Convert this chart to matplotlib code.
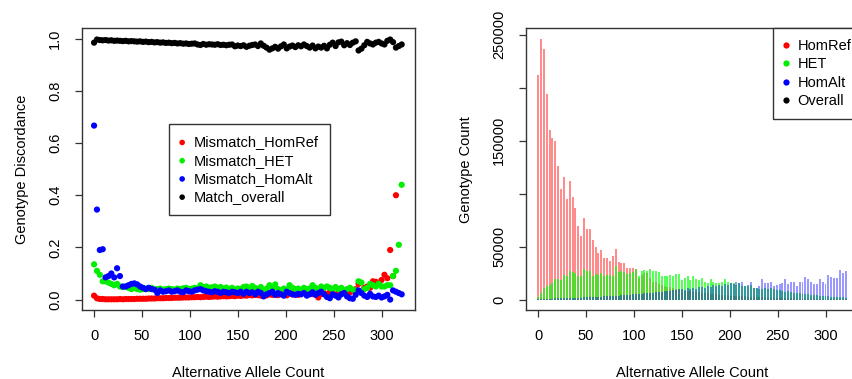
import numpy as np
import matplotlib.pyplot as plt

plt.rcParams['font.family'] = ['Liberation Sans', 'DejaVu Sans']
plt.rcParams['font.size'] = 10.5

# alternative allele count (every 3rd count, 0..321)
allele_count = np.arange(0, 322, 3)

# left panel: genotype discordance per allele count
mismatch_homref = [
    0.015, 0.005, 0.002, 0.002, 0.001, 0.001, 0.001, 0.001, 0.001, 0.002,
    0.001, 0.002, 0.002, 0.002, 0.002, 0.003, 0.003, 0.003, 0.003, 0.004,
    0.004, 0.004, 0.005, 0.005, 0.005, 0.006, 0.006, 0.006, 0.007, 0.007,
    0.007, 0.008, 0.008, 0.008, 0.009, 0.009, 0.010, 0.009, 0.010, 0.011,
    0.010, 0.011, 0.012, 0.011, 0.012, 0.013, 0.012, 0.013, 0.014, 0.013,
    0.015, 0.014, 0.016, 0.015, 0.017, 0.016, 0.018, 0.017, 0.015, 0.019,
    0.016, 0.020, 0.018, 0.021, 0.017, 0.022, 0.019, 0.016, 0.023, 0.020,
    0.025, 0.018, 0.022, 0.027, 0.020, 0.024, 0.021, 0.026, 0.008, 0.022,
    0.025, 0.020, 0.028, 0.023, 0.019, 0.026, 0.022, 0.030, 0.024, 0.028,
    0.035, 0.040, 0.060, 0.030, 0.045, 0.050, 0.045, 0.070, 0.068, 0.060,
    0.075, 0.095, 0.082, 0.190, 0.090, 0.400, np.nan, np.nan]
mismatch_het = [
    0.135, 0.110, 0.095, 0.070, 0.070, 0.065, 0.060, 0.055, 0.060, 0.050,
    0.048, 0.050, 0.045, 0.040, 0.045, 0.040, 0.038, 0.040, 0.042, 0.040,
    0.045, 0.038, 0.040, 0.042, 0.038, 0.040, 0.042, 0.040, 0.038, 0.042,
    0.040, 0.043, 0.045, 0.040, 0.042, 0.045, 0.042, 0.055, 0.048, 0.050,
    0.045, 0.047, 0.050, 0.045, 0.048, 0.042, 0.046, 0.040, 0.045, 0.038,
    0.042, 0.040, 0.048, 0.050, 0.044, 0.052, 0.045, 0.040, 0.048, 0.035,
    0.042, 0.055, 0.045, 0.058, 0.040, 0.035, 0.042, 0.038, 0.055, 0.045,
    0.040, 0.042, 0.038, 0.045, 0.040, 0.042, 0.055, 0.045, 0.040, 0.050,
    0.045, 0.050, 0.045, 0.040, 0.048, 0.040, 0.045, 0.035, 0.040, 0.045,
    0.038, 0.035, 0.070, 0.065, 0.040, 0.045, 0.060, 0.055, 0.050, 0.060,
    0.050, 0.050, 0.055, 0.055, 0.090, 0.110, 0.210, 0.440]
mismatch_homalt = [
    0.667, 0.345, 0.190, 0.193, 0.085, 0.090, 0.100, 0.085, 0.120, 0.090,
    0.050, 0.050, 0.055, 0.060, 0.062, 0.058, 0.050, 0.045, 0.040, 0.045,
    0.040, 0.038, 0.025, 0.035, 0.030, 0.032, 0.035, 0.030, 0.032, 0.035,
    0.030, 0.028, 0.035, 0.032, 0.030, 0.035, 0.038, 0.040, 0.035, 0.032,
    0.030, 0.028, 0.032, 0.030, 0.025, 0.030, 0.028, 0.025, 0.030, 0.028,
    0.025, 0.030, 0.022, 0.030, 0.025, 0.028, 0.020, 0.030, 0.025, 0.012,
    0.020, 0.025, 0.030, 0.018, 0.025, 0.020, 0.015, 0.030, 0.025, 0.020,
    0.018, 0.022, 0.020, 0.025, 0.015, 0.020, 0.028, 0.018, 0.025, 0.030,
    0.020, 0.010, 0.005, 0.020, 0.015, 0.008, 0.020, 0.025, 0.012, 0.005,
    0.003, 0.018, 0.035, 0.025, 0.015, 0.010, 0.022, 0.012, 0.010, 0.015,
    0.008, 0.012, 0.018, 0.000, 0.035, 0.030, 0.025, 0.020]
match_overall = [
    0.985, 0.997, 0.995, 0.994, 0.995, 0.993, 0.994, 0.992, 0.993, 0.992,
    0.991, 0.992, 0.990, 0.991, 0.990, 0.989, 0.990, 0.988, 0.989, 0.987,
    0.988, 0.986, 0.987, 0.985, 0.986, 0.984, 0.985, 0.983, 0.984, 0.982,
    0.983, 0.981, 0.982, 0.980, 0.981, 0.982, 0.978, 0.976, 0.980, 0.977,
    0.979, 0.978, 0.977, 0.979, 0.976, 0.977, 0.975, 0.977, 0.978, 0.971,
    0.974, 0.972, 0.975, 0.969, 0.973, 0.976, 0.978, 0.972, 0.982, 0.973,
    0.966, 0.958, 0.963, 0.969, 0.962, 0.971, 0.978, 0.963, 0.970, 0.974,
    0.968, 0.975, 0.971, 0.978, 0.972, 0.966, 0.974, 0.963, 0.970, 0.966,
    0.973, 0.963, 0.977, 0.985, 0.972, 0.986, 0.989, 0.975, 0.983, 0.976,
    0.985, 0.990, 0.955, 0.962, 0.975, 0.988, 0.982, 0.978, 0.985, 0.988,
    0.982, 0.978, 0.992, 0.997, 0.987, 0.966, 0.972, 0.978]

# right panel: genotype counts (thousands)
count_homref = [
    212, 246, 236, 194, 160, 152, 150, 126, 104, 116,
    95, 112, 97, 86, 69, 60, 77, 67, 67, 56,
    50, 44, 47, 39, 39, 36, 41, 48, 35, 34.5,
    34.5, 30, 30, 30, 29, 20, 23.5, 25, 25, 20.5,
    17, 16.5, 15, 14, 13, 12, 11.5, 11, 10, 9.5,
    9, 8.5, 8, 8, 7.5, 7, 7.5, 6.5, 6, 6,
    5.5, 5, 5, 4.5, 4.5, 4, 4, 3.8, 3.5, 3.5,
    3.2, 3, 3, 2.8, 2.5, 2.5, 2.3, 2.2, 2, 2,
    1.8, 1.7, 1.6, 1.5, 1.4, 1.3, 1.2, 1.1, 1.0, 1.0,
    0.9, 0.9, 0.8, 0.8, 0.7, 0.7, 0.6, 0.6, 0.5, 0.5,
    0.5, 0.4, 0.4, 0.4, 0.3, 0.3, 0.3, 0.3]
count_het = [
    2, 6, 11, 13, 14, 16, 19.5, 19, 18, 23.5,
    22.5, 26.5, 26, 25, 22.5, 22, 29, 27, 26.5, 22,
    24.5, 23.5, 25, 22, 23.5, 23.5, 22.5, 32, 26, 26.5,
    26, 24.5, 25, 26, 29, 22, 26.5, 28, 26.5, 29,
    26.5, 26.5, 26, 22.5, 22.5, 22.5, 23.5, 22, 24.5, 24.5,
    18, 20, 22, 18, 22, 19, 18, 20, 17, 16,
    19, 17, 15.5, 15.5, 17, 19, 17, 15.5, 16, 14,
    16, 13, 12.5, 13, 14, 11, 11, 10, 10, 11,
    9.5, 11, 10, 9, 9, 8, 7.5, 8, 7, 6.5,
    6, 6.5, 5.5, 5, 5.5, 4.5, 4, 4.5, 3.5, 3.5,
    3, 3, 2.5, 2.5, 2, 2, 2, 1.5]
count_homalt = [
    0.3, 0.5, 0.6, 0.7, 0.8, 0.9, 1.0, 1.0, 1.1, 1.2,
    1.3, 1.4, 1.5, 1.6, 1.7, 1.8, 2.0, 2.0, 2.2, 2.3,
    2.5, 2.6, 2.8, 3.0, 3.1, 3.3, 3.5, 3.6, 3.8, 4.0,
    4.2, 4.4, 4.6, 4.8, 5.0, 5.2, 5.5, 6.0, 5.8, 6.2,
    6.5, 6.8, 7.0, 7.3, 7.8, 8.0, 8.5, 8.8, 9.0, 9.5,
    10, 9, 10.5, 9.5, 11, 10, 11.5, 12, 11, 13,
    12, 13.5, 12.5, 14, 13, 15, 14, 16, 15, 17,
    15.5, 16.5, 13, 14, 17, 11, 11, 12.5, 19, 15.5,
    15.5, 17, 12.5, 14, 15, 16, 19.5, 15, 17, 17,
    12.5, 17, 17, 21.5, 19.5, 17, 15, 15, 19, 17,
    14.5, 23.5, 21.5, 20.5, 20.5, 28, 25, 27]

fig = plt.figure(figsize=(8.52, 3.79), dpi=100)
ax1 = fig.add_axes([0.0959, 0.1821, 0.3912, 0.7432])
ax2 = fig.add_axes([0.617, 0.1821, 0.3912, 0.7432])

legend_style = dict(fancybox=False, edgecolor='#333333', framealpha=1,
                    handlelength=0.3, handletextpad=0.65, borderpad=0.75,
                    labelspacing=0.29, borderaxespad=0)

# --- left: discordance
ax1.scatter(allele_count, mismatch_homref, s=20, color='#ff0000', edgecolors='none', zorder=2, label='Mismatch_HomRef')
ax1.scatter(allele_count, mismatch_het, s=20, color='#00ee00', edgecolors='none', zorder=3, label='Mismatch_HET')
ax1.scatter(allele_count, mismatch_homalt, s=20, color='#0000ff', edgecolors='none', zorder=4, label='Mismatch_HomAlt')
ax1.scatter(allele_count, match_overall, s=20, color='black', edgecolors='none', zorder=5, label='Match_overall')
ax1.set_xlim(-12.9, 334.9)
ax1.set_ylim(-0.04, 1.04)
ax1.set_xticks([0, 50, 100, 150, 200, 250, 300])
ax1.set_yticks([0.0, 0.2, 0.4, 0.6, 0.8, 1.0])
ax1.set_yticklabels(['0.0', '0.2', '0.4', '0.6', '0.8', '1.0'])
ax1.set_xlabel('Alternative Allele Count', labelpad=16)
ax1.set_ylabel('Genotype Discordance', labelpad=14)
leg1 = ax1.legend(loc='upper left', bbox_to_anchor=(0.262, 0.659), markerscale=0.9, **legend_style)
leg1.get_frame().set_linewidth(1.0)

# --- right: counts
ax2.bar(allele_count, np.array(count_homref) * 1000, width=2.0, color=(1, 0, 0, 0.45), zorder=2)
ax2.bar(allele_count, np.array(count_het) * 1000, width=2.0, color=(0, 1, 0, 0.65), zorder=3)
ax2.bar(allele_count, np.array(count_homalt) * 1000, width=2.0, color=(0, 0, 1, 0.4), zorder=4)
ax2.set_xlim(-12.9, 334.9)
ax2.set_ylim(-9840, 255840)
ax2.set_xticks([0, 50, 100, 150, 200, 250, 300])
ax2.set_yticks([0, 50000, 100000, 150000, 200000, 250000])
ax2.set_yticklabels(['0', '50000', '', '150000', '', '250000'])
ax2.set_xlabel('Alternative Allele Count', labelpad=16)
ax2.set_ylabel('Genotype Count', labelpad=14)
legend_names = ['HomRef', 'HET', 'HomAlt', 'Overall']
legend_colors = ['#ff0000', '#00ee00', '#0000ff', 'black']
handles = [plt.Line2D([], [], linestyle='none', marker='o', markersize=4.5,
                      markerfacecolor=c, markeredgecolor='none') for c in legend_colors]
leg2 = ax2.legend(handles, legend_names, loc='upper right', bbox_to_anchor=(1.01, 1.0), **legend_style)
leg2.get_frame().set_linewidth(1.0)

for ax in (ax1, ax2):
    for sp in ax.spines.values():
        sp.set_color('#333333')
        sp.set_linewidth(1.0)
    ax.tick_params(axis='both', length=5, width=0.9, color='#333333', pad=9)
    ax.tick_params(axis='y', labelrotation=90)
    for lbl in ax.get_yticklabels():
        lbl.set_verticalalignment('center')

plt.savefig('out.png', dpi=100)
